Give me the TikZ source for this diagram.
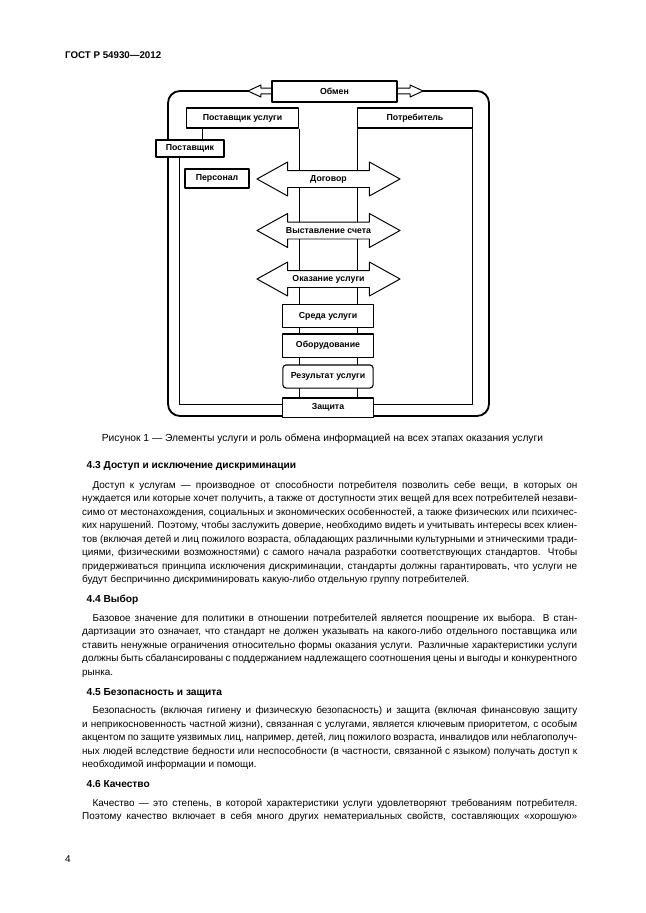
\documentclass[tikz,border=0pt]{standalone}
\usepackage{fontspec}
\setmainfont{Liberation Sans}
\usepackage{tikz}
\usetikzlibrary{shapes,shapes.arrows,positioning,calc}

\newcommand{\dfont}{\fontsize{8.1}{9}\selectfont\bfseries}
\newcommand{\tfont}{\fontsize{9.2}{11}\selectfont}
% justified line, first line of a paragraph, last line
\newcommand{\jline}[3]{\node[txt] (#1) at (82,#2) {\makebox[160.9mm][s]{#3}};}
\newcommand{\fline}[3]{\node[txt] (#1) at (92.3,#2) {\makebox[157.6mm][s]{#3}};}
\newcommand{\lline}[3]{\node[txt] (#1) at (82,#2) {#3};}

\begin{document}
\begin{tikzpicture}[x=0.32508mm, y=-0.32508mm, line join=round,
  box/.style={draw, fill=white, line width=1pt, inner sep=0, font=\dfont},
  thickbox/.style={box, line width=1.8pt},
  dblarrow/.style={double arrow, draw, fill=white, line width=0.9pt,
    inner xsep=0, inner ysep=2.6mm,
    double arrow head extend=2.76mm, double arrow tip angle=58,
    minimum height=46.5mm, minimum width=10.7mm},
  arrowtext/.style={inner sep=0, font=\dfont},
  frame/.style={line width=1.7pt, rounded corners=3.9mm},
  inner/.style={line width=0.9pt},
  txt/.style={anchor=base west, inner sep=0, font=\tfont},
  head/.style={anchor=base west, inner sep=0, font=\fontsize{9.4}{11}\selectfont\bfseries}]

\useasboundingbox (0,0) rectangle (646,913);

\node[anchor=base west, inner sep=0, font=\fontsize{9}{11}\selectfont\bfseries] (hdr) at (65,58) {ГОСТ Р 54930—2012};

% the frame
\coordinate (frametl) at (168,91);
\coordinate (framebr) at (489,416);
\draw[frame] (frametl) rectangle (framebr);

% boxes on top
\node[box, minimum width=36.7mm, minimum height=6.5mm] (supplier) at (242.5,118) {Поставщик услуги};
\node[box, minimum width=37.1mm, minimum height=6.5mm] (consumer) at (415,118) {Потребитель};
\node[thickbox, minimum width=22.1mm, minimum height=5.5mm] (provider) at (190,148.5) {Поставщик};

% inner lines
\coordinate (innerbl) at (179,404);
\coordinate (innerbr) at (consumer.south east |- innerbl);
\node[box, minimum width=29.3mm, minimum height=6.2mm] (protect) at (328,407.5) {Защита};
\draw[inner] (provider.south -| innerbl) -- (innerbl) -- (protect.west |- innerbl);
\draw[inner] (protect.east |- innerbl) -- (innerbr) -- (consumer.south east);
\draw[inner] ([xshift=5.5mm]supplier.south west) -- ([xshift=5.5mm]supplier.south west |- provider.north);
\draw[inner] (supplier.south east) -- (supplier.south east |- protect.north);
\draw[inner] (consumer.south west) -- (consumer.south west |- protect.north);

% exchange
\node[dblarrow, minimum height=56.9mm, minimum width=3.6mm, inner ysep=0.8mm,
  double arrow head extend=1mm, double arrow tip angle=50] (obmenarrow) at (335.5,91) {};
\node[thickbox, minimum width=40.6mm, minimum height=6.8mm] (obmen) at (334.5,91.5) {Обмен};

\node[box, minimum width=20.8mm, minimum height=6.2mm] (staff) at (217,178.5) {Персонал};

% the three stages
\node[dblarrow] (contract) at (328.5,179) {};
\node[dblarrow] (invoice) at (328.5,230.5) {};
\node[dblarrow] (delivery) at (328.5,279) {};
\node[arrowtext] (contracttxt) at (contract.center) {Договор};
\node[arrowtext] (invoicetxt) at (invoice.center) {Выставление счета};
\node[arrowtext] (deliverytxt) at (delivery.center) {Оказание услуги};

\node[box, minimum width=29.3mm, minimum height=7.2mm] (env) at (328,316) {Среда услуги};
\node[box, minimum width=29.3mm, minimum height=7.5mm] (equip) at (328,345.5) {Оборудование};
\node[box, minimum width=29.3mm, minimum height=7.5mm, rounded corners=1mm] (result) at (328,376.5) {Результат услуги};

\node[anchor=base, inner sep=0, font=\fontsize{9.5}{11}\selectfont] (cap) at (322.5,441)
  {Рисунок 1 — Элементы услуги и роль обмена информацией на всех этапах оказания услуги};

% 4.3
\node[head] (h43) at (86.5,468) {4.3 Доступ и исключение дискриминации};
\fline{a1}{488}{Доступ к услугам — производное от способности потребителя позволить себе вещи, в которых он}
\jline{a2}{501.5}{нуждается или которые хочет получить, а также от доступности этих вещей для всех потребителей незави-}
\jline{a3}{515}{симо от местонахождения, социальных и экономических особенностей, а также физических или психичес-}
\jline{a4}{528.5}{ких нарушений. Поэтому, чтобы заслужить доверие, необходимо видеть и учитывать интересы всех клиен-}
\jline{a5}{542}{тов (включая детей и лиц пожилого возраста, обладающих различными культурными и этническими тради-}
\jline{a6}{555.5}{циями, физическими возможностями) с самого начала разработки соответствующих стандартов. Чтобы}
\jline{a7}{569}{придерживаться принципа исключения дискриминации, стандарты должны гарантировать, что услуги не}
\lline{a8}{582.5}{будут беспричинно дискриминировать какую-либо отдельную группу потребителей.}

% 4.4
\node[head] (h44) at (86.5,602.5) {4.4 Выбор};
\fline{b1}{621}{Базовое значение для политики в отношении потребителей является поощрение их выбора. В стан-}
\jline{b2}{634.5}{дартизации это означает, что стандарт не должен указывать на какого-либо отдельного поставщика или}
\jline{b3}{648}{ставить ненужные ограничения относительно формы оказания услуги. Различные характеристики услуги}
\jline{b4}{661.5}{должны быть сбалансированы с поддержанием надлежащего соотношения цены и выгоды и конкурентного}
\lline{b5}{675}{рынка.}

% 4.5
\node[head] (h45) at (86.5,695) {4.5 Безопасность и защита};
\fline{c1}{713.5}{Безопасность (включая гигиену и физическую безопасность) и защита (включая финансовую защиту}
\jline{c2}{727}{и неприкосновенность частной жизни), связанная с услугами, является ключевым приоритетом, с особым}
\jline{c3}{740.5}{акцентом по защите уязвимых лиц, например, детей, лиц пожилого возраста, инвалидов или неблагополуч-}
\jline{c4}{754}{ных людей вследствие бедности или неспособности (в частности, связанной с языком) получать доступ к}
\lline{c5}{767.5}{необходимой информации и помощи.}

% 4.6
\node[head] (h46) at (86.5,787.5) {4.6 Качество};
\fline{d1}{806}{Качество — это степень, в которой характеристики услуги удовлетворяют требованиям потребителя.}
\jline{d2}{819.5}{Поэтому качество включает в себя много других нематериальных свойств, составляющих «хорошую»}

\node[txt] (pagenum) at (65,862) {4};

\end{tikzpicture}
\end{document}
